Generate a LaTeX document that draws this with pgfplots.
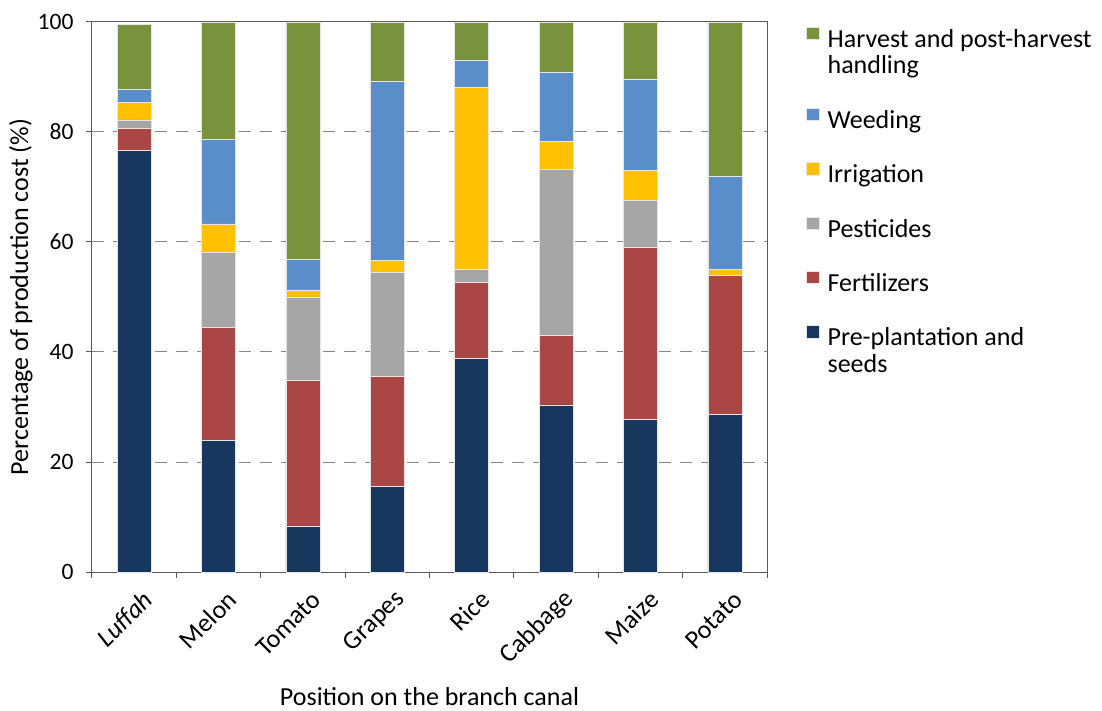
\documentclass[border=0pt]{standalone}
\usepackage{fontspec}
\setmainfont{Carlito}
\usepackage{pgfplots}
\usepackage{pgfplotstable}
\pgfplotsset{compat=1.18}
\definecolor{cSeed}{HTML}{17375E}
\definecolor{cFert}{HTML}{AA4643}
\definecolor{cPest}{HTML}{A6A6A6}
\definecolor{cIrr}{HTML}{FFC000}
\definecolor{cWeed}{HTML}{5A8ECA}
\definecolor{cHarv}{HTML}{78933C}
\definecolor{axcol}{HTML}{595959}
\definecolor{gridcol}{HTML}{868686}
\pgfplotstableread{
x seed fert pest irr weed harv
0 76.7 4.0 1.5 3.2 2.3 11.9
1 23.9 20.5 13.7 5.2 15.4 21.3
2 8.4 26.5 15.1 1.3 5.6 43.1
3 15.5 20.0 19.0 2.2 32.5 10.8
4 38.8 13.8 2.4 33.1 4.9 7.0
5 30.4 12.6 30.2 5.1 12.5 9.2
6 27.8 31.3 8.4 5.5 16.6 10.4
7 28.6 25.3 0.0 1.1 16.9 28.1
}\data
\begin{document}
\begin{tikzpicture}
\path[use as bounding box] (-92bp,-139bp) rectangle (1010bp,572bp);
\begin{axis}[
  at={(0,0)}, anchor=south west,
  scale only axis, width=675bp, height=550bp,
  xmin=-0.5, xmax=7.5, ymin=0, ymax=100,
  ybar stacked, bar width=34bp,
  axis line style={draw=axcol, line width=1bp},
  xtick={-0.5,0.5,...,7.5}, xticklabels={},
  extra x ticks={0,1,...,7},
  extra x tick labels={\textit{Luffah},Melon,Tomato,Grapes,Rice,Cabbage,Maize,Potato},
  extra x tick style={major tick length=0pt, grid=none},
  xticklabel style={font=\fontsize{26bp}{30bp}\selectfont, xshift=16bp, yshift=-21bp, rotate=45, anchor=east},
  ytick={0,20,...,100},
  yticklabel style={font=\fontsize{23.5bp}{28bp}\selectfont, xshift=-9bp},
  /pgf/number format/assume math mode=true,
  tick align=outside, major tick length=6bp,
  tick style={draw=axcol, line width=1bp},
  xtick pos=lower, ytick pos=left,
  ymajorgrids, grid style={draw=gridcol, line width=1bp, dash pattern=on 12bp off 9bp},
  xlabel={Position on the branch canal},
  ylabel={Percentage of production cost (\%)},
  label style={font=\fontsize{26bp}{30bp}\selectfont},
  xlabel style={at={(axis description cs:0.5,-0.2436)}, anchor=base},
  ylabel style={at={(axis description cs:-0.0948,0.5)}, anchor=base, rotate=0},
  legend image code/.code={\fill[#1] (0bp,2bp) rectangle (13bp,14.5bp);},
  legend cell align=left,
  legend style={at={(rel axis cs:1.0578,0.991)}, anchor=north west, draw=none, fill=none,
    inner sep=0pt, outer sep=0pt, row sep=0pt, column sep=8bp,
    font=\fontsize{26bp}{27bp}\selectfont,
    nodes={inner sep=0pt, text height=19bp, text depth=7.4bp}},
  every axis plot/.append style={draw=white!80!gray, line width=0.6bp},
]
\addplot[fill=cSeed, forget plot] table[x=x,y=seed]{\data};
\addplot[fill=cFert, forget plot] table[x=x,y=fert]{\data};
\addplot[fill=cPest, forget plot] table[x=x,y=pest]{\data};
\addplot[fill=cIrr, forget plot] table[x=x,y=irr]{\data};
\addplot[fill=cWeed, forget plot] table[x=x,y=weed]{\data};
\addplot[fill=cHarv, forget plot] table[x=x,y=harv]{\data};
\addlegendimage{fill=cHarv}\addlegendentry{Harvest and post-harvest}
\addlegendimage{empty legend}\addlegendentry{handling}
\addlegendimage{empty legend}\addlegendentry{}
\addlegendimage{fill=cWeed}\addlegendentry{Weeding}
\addlegendimage{empty legend}\addlegendentry{}
\addlegendimage{fill=cIrr}\addlegendentry{Irrigation}
\addlegendimage{empty legend}\addlegendentry{}
\addlegendimage{fill=cPest}\addlegendentry{Pesticides}
\addlegendimage{empty legend}\addlegendentry{}
\addlegendimage{fill=cFert}\addlegendentry{Fertilizers}
\addlegendimage{empty legend}\addlegendentry{}
\addlegendimage{fill=cSeed}\addlegendentry{Pre-plantation and}
\addlegendimage{empty legend}\addlegendentry{seeds}
\end{axis}
\end{tikzpicture}
\end{document}
